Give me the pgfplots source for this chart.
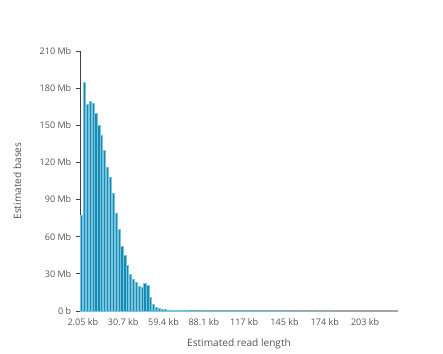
\documentclass[border=0pt]{standalone}
\usepackage{pgfplots}
\pgfplotsset{compat=1.18}
\usepackage{pgfplotstable}
\usepackage{fontspec}
\setmainfont{Open Sans}
\definecolor{barfill}{RGB}{22,140,180}
\definecolor{baredge}{RGB}{120,195,222}
\definecolor{txt}{RGB}{85,85,85}
\pgfplotstableread{
x y
0.5 77.0
1.5 184.7
2.5 166.6
3.5 169.1
4.5 167.5
5.5 159.9
6.5 150.0
7.5 142.2
8.5 129.5
9.5 115.8
10.5 107.7
11.5 95.3
12.5 79.2
13.5 65.7
14.5 52.2
15.5 45.0
16.5 36.9
17.5 29.6
18.5 25.9
19.5 23.2
20.5 19.9
21.5 18.8
22.5 22.4
23.5 20.5
24.5 11.3
25.5 5.4
26.5 2.7
27.5 1.9
28.5 1.6
29.5 1.6
30.5 0.9
31.5 0.9
32.5 0.8
33.5 0.6
34.5 0.4
35.5 0.3
36.5 0.3
37.5 0.25
38.5 0.2
39.5 0.2
40.5 0.2
41.5 0.15
42.5 0.15
43.5 0.12
44.5 0.12
45.5 0.1
46.5 0.1
47.5 0.1
48.5 0.08
49.5 0.08
50.5 0.08
51.5 0.07
52.5 0.07
53.5 0.06
54.5 0.06
55.5 0.06
56.5 0.05
57.5 0.05
58.5 0.05
59.5 0.05
60.5 0.05
61.5 0.04
62.5 0.04
63.5 0.04
64.5 0.04
65.5 0.04
66.5 0.03
67.5 0.03
68.5 0.03
69.5 0.03
70.5 0.03
72.5 0.03
74.5 0.02
76.5 0.02
78.5 0.02
80.5 0.02
83.5 0.02
86.5 0.02
}\datatable
\begin{document}
\begin{tikzpicture}
\begin{axis}[
  scale only axis,
  width=238.5pt, height=195pt,
  xmin=0, xmax=110.4,
  ymin=0, ymax=210,
  axis x line*=bottom,
  axis y line*=left,
  x axis line style={draw=black!35, line width=0.8pt},
  y axis line style={draw=black!75, line width=0.6pt},
  xtick={1,15,29,43,57,71,85,99},
  xticklabels={2.05 kb,30.7 kb,59.4 kb,88.1 kb,117 kb,145 kb,174 kb,203 kb},
  ytick={0,30,60,90,120,150,180,210},
  yticklabels={0 b,30 Mb,60 Mb,90 Mb,120 Mb,150 Mb,180 Mb,210 Mb},
  x tick style={draw=none},
  y tick style={draw=black!75, line width=0.6pt},
  tick align=outside,
  major tick length=3pt,
  tick label style={font=\fontsize{6.8}{8}\selectfont, text=txt},
  xticklabel style={yshift=1pt},
  xlabel={Estimated read length},
  ylabel={Estimated bases},
  label style={font=\fontsize{7.6}{9}\selectfont, text=txt},
  xlabel style={yshift=-3pt},
  ylabel style={yshift=7pt},
  clip=false,
]
\addplot[ybar, bar width=0.78, fill=barfill, draw=baredge, line width=0.35pt] table[x=x,y=y] {\datatable};
\end{axis}
\path[use as bounding box] ([xshift=-60pt,yshift=-30.75pt]current axis.south west) rectangle ([xshift=33.75pt,yshift=38.25pt]current axis.north east);
\end{tikzpicture}
\end{document}
